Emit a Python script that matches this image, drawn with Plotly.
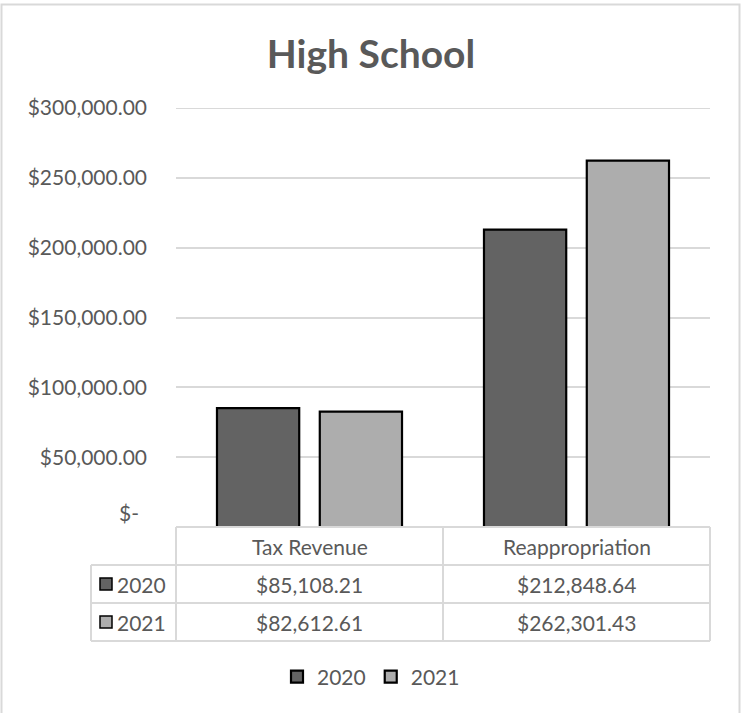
import plotly.graph_objects as go

# Data
categories = ["Tax Revenue", "Reappropriation"]
series_names = ["2020", "2021"]
values_2020 = [85108.21, 212848.64]
values_2021 = [82612.61, 262301.43]
y_ticks = [50000, 100000, 150000, 200000, 250000, 300000]

# Styling
FONT = "Lato"
TEXT = "#595959"
GRID = "#d9d9d9"
FS = 21
colors = {"2020": "#636363", "2021": "#adadad"}

W, H = 742, 713
L, R, T, B = 176, 32, 108, 186
PW, PH = W - L - R, H - T - B


def px(x):
    """pixel x -> paper x"""
    return (x - L) / PW


def py(y):
    """pixel y -> paper y"""
    return (H - B - y) / PH


def money(v):
    return f"${v:,.2f}"


fig = go.Figure()
for name, vals in zip(series_names, [values_2020, values_2021]):
    fig.add_trace(go.Bar(
        x=categories, y=vals, name=name,
        marker=dict(color=colors[name], line=dict(color="#000000", width=2.2)),
    ))

shapes = []
annotations = []

# Outer chart frame
shapes.append(dict(type="rect", xref="paper", yref="paper",
                   x0=px(1.5), x1=px(739.5), y0=py(730), y1=py(4.5),
                   line=dict(color=GRID, width=2), layer="below"))

# Top gridline sits on the plot edge, so draw it explicitly
shapes.append(dict(type="line", xref="paper", yref="y", x0=0, x1=1,
                   y0=y_ticks[-1], y1=y_ticks[-1], line=dict(color=GRID, width=2),
                   layer="below"))

# Data table grid
row_edges = [527, 565, 603, 641]
x_left = px(91)
line_style = dict(color=GRID, width=2)
shapes.append(dict(type="line", xref="paper", yref="paper",
                   x0=0, x1=1, y0=py(row_edges[0]), y1=py(row_edges[0]), line=line_style))
for ye in row_edges[1:]:
    shapes.append(dict(type="line", xref="paper", yref="paper",
                       x0=x_left, x1=1, y0=py(ye), y1=py(ye), line=line_style))
shapes.append(dict(type="line", xref="paper", yref="paper",
                   x0=x_left, x1=x_left, y0=py(row_edges[1]), y1=py(row_edges[3]), line=line_style))
for xv in [0, 0.5, 1]:
    shapes.append(dict(type="line", xref="paper", yref="paper",
                       x0=xv, x1=xv, y0=py(row_edges[0]), y1=py(row_edges[3]), line=line_style))

cell_font = dict(family=FONT, size=FS, color=TEXT)

# Header labels
for i, cat in enumerate(categories):
    annotations.append(dict(x=(i + 0.5) / 2, y=py((row_edges[0] + row_edges[1]) / 2),
                            xref="paper", yref="paper", xanchor="center", yanchor="middle",
                            text=cat, showarrow=False, font=cell_font))

# Series rows
for r, (name, vals) in enumerate(zip(series_names, [values_2020, values_2021])):
    yc = (row_edges[r + 1] + row_edges[r + 2]) / 2
    shapes.append(dict(type="rect", xref="paper", yref="paper",
                       x0=px(100), x1=px(112), y0=py(yc + 6), y1=py(yc - 6),
                       fillcolor=colors[name], line=dict(color="#000000", width=1.5)))
    annotations.append(dict(x=px(115), y=py(yc), xref="paper", yref="paper",
                            xanchor="left", yanchor="middle", text=name, showarrow=False,
                            font=cell_font))
    for i, v in enumerate(vals):
        annotations.append(dict(x=(i + 0.5) / 2, y=py(yc), xref="paper", yref="paper",
                                xanchor="center", yanchor="middle",
                                text=money(v), showarrow=False, font=cell_font))

# Zero label in accounting style
annotations.append(dict(x=px(141), y=0, xref="paper", yref="y", yshift=15,
                        xanchor="right", yanchor="middle", text="$-", showarrow=False,
                        font=cell_font))

fig.update_layout(
    width=W, height=H,
    margin=dict(l=L, r=R, t=T, b=B, autoexpand=False),
    paper_bgcolor="white", plot_bgcolor="white",
    barmode="group", bargap=0.23, bargroupgap=0.2,
    title=dict(text="<b>High School</b>", x=0.5, xref="container", xanchor="center",
               y=1 - 54 / H, yref="container", yanchor="middle",
               font=dict(family=FONT, size=39, color=TEXT)),
    font=dict(family=FONT, size=FS, color=TEXT),
    showlegend=True,
    legend=dict(orientation="h", x=0.5, xref="container", xanchor="center",
                y=py(677), yanchor="middle", font=cell_font,
                itemclick=False, traceorder="normal"),
    shapes=shapes, annotations=annotations,
)
fig.update_xaxes(showticklabels=False, showgrid=False, zeroline=False, showline=False,
                 range=[-0.5, 1.5])
fig.update_yaxes(range=[0, 300000], tickvals=y_ticks, ticktext=[money(v) for v in y_ticks],
                 showgrid=True, gridcolor=GRID, gridwidth=2, zeroline=False, showline=False,
                 ticks="", ticklabelstandoff=28, tickfont=cell_font)

fig.write_html("out.html")
